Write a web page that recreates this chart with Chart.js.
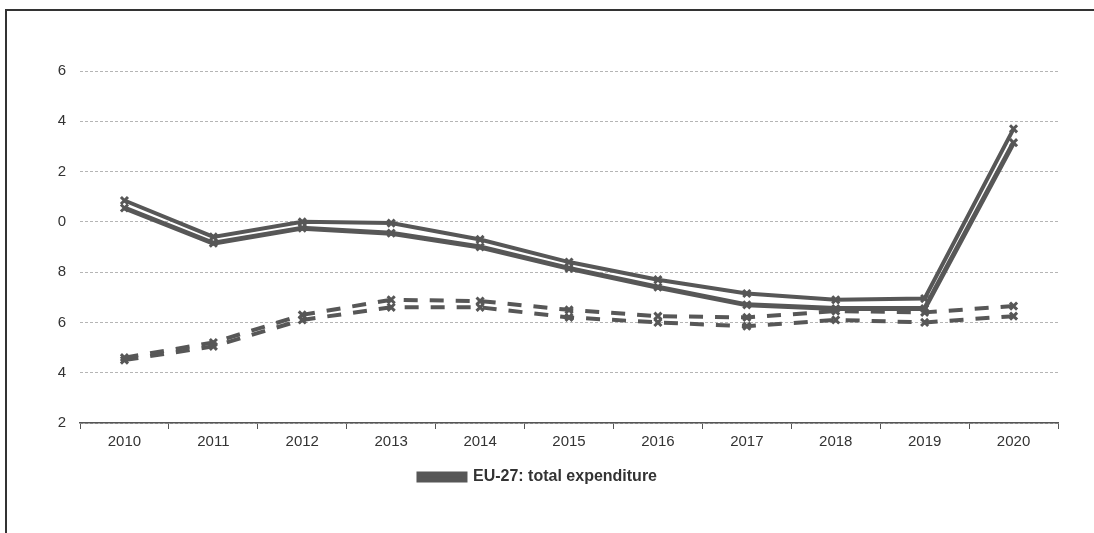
<!DOCTYPE html>
<html>
<head>
<meta charset="utf-8">
<script src="https://cdn.jsdelivr.net/npm/chart.js@4.4.1/dist/chart.umd.min.js"></script>
<style>
  html, body { margin: 0; padding: 0; background: #fff; overflow: hidden; }
  #frame {
    position: absolute; left: 5px; top: 9px;
    width: 1200px; height: 700px;
    border-top: 2px solid #333; border-left: 2px solid #333;
  }
  #wrap { position: absolute; left: 0; top: 0; width: 1094px; height: 533px; }
</style>
</head>
<body>
<div id="frame"></div>
<div id="wrap"><canvas id="chart"></canvas></div>
<script>
// Years on the x axis
const years = ['2010', '2011', '2012', '2013', '2014', '2015', '2016', '2017', '2018', '2019', '2020'];

// y axis runs 32..46, labels are cut down to their last digit in the source
const yTickValues = [32, 34, 36, 38, 40, 42, 44, 46];
const yTickLabels = ['2', '4', '6', '8', '0', '2', '4', '6'];

// solid pair
const totalUpper = [40.85, 39.4, 40.0, 39.95, 39.3, 38.4, 37.7, 37.15, 36.9, 36.95, 43.7];
const totalLower = [40.55, 39.15, 39.75, 39.55, 39.0, 38.15, 37.4, 36.7, 36.55, 36.55, 43.15];

// dashed pair
const dashedUpper = [34.6, 35.2, 36.3, 36.9, 36.85, 36.5, 36.25, 36.2, 36.45, 36.4, 36.65];
const dashedLower = [34.5, 35.05, 36.1, 36.6, 36.6, 36.2, 36.0, 35.85, 36.1, 36.0, 36.25];

const legendLabel = 'EU-27: total expenditure';

const lineGrey = '#575757';

function series(label, data, width, dash) {
    return {
        label: label,
        data: data,
        borderColor: lineGrey,
        backgroundColor: lineGrey,
        borderWidth: width,
        borderDash: dash,
        tension: 0,
        fill: false,
        pointStyle: 'crossRot',
        pointRadius: 5,
        pointBorderWidth: 3,
        pointBorderColor: lineGrey,
        pointHoverRadius: 5
    };
}

const ctx = document.getElementById('chart').getContext('2d');
new Chart(ctx, {
    type: 'line',
    data: {
        labels: years,
        datasets: [
            series(legendLabel, totalLower, 5, []),
            series('total upper', totalUpper, 4, []),
            series('dashed upper', dashedUpper, 4, [14, 12]),
            series('dashed lower', dashedLower, 4, [14, 12])
        ]
    },
    options: {
        responsive: true,
        maintainAspectRatio: false,
        animation: false,
        layout: {
            padding: { top: 71, right: 36, bottom: 38, left: 18 }
        },
        scales: {
            x: {
                offset: true,
                grid: {
                    offset: true,
                    drawOnChartArea: false,
                    drawTicks: true,
                    tickLength: 6,
                    color: '#555'
                },
                border: { display: true, color: '#555', width: 1.5 },
                ticks: {
                    color: '#333',
                    padding: 4,
                    font: { family: 'Liberation Sans, Arial, sans-serif', size: 15 }
                }
            },
            y: {
                min: 32,
                max: 46,
                afterFit: (scale) => { scale.width = 62; },
                afterBuildTicks: (scale) => {
                    scale.ticks = yTickValues.map(v => ({ value: v }));
                },
                grid: {
                    drawTicks: false,
                    color: '#b5b5b5',
                    lineWidth: 1
                },
                border: { display: false, dash: [3, 2] },
                ticks: {
                    color: '#333',
                    padding: 14,
                    font: { family: 'Liberation Sans, Arial, sans-serif', size: 15 },
                    callback: (value) => {
                        const i = yTickValues.indexOf(value);
                        return i >= 0 ? yTickLabels[i] : '';
                    }
                }
            }
        },
        plugins: {
            legend: {
                position: 'bottom',
                labels: {
                    boxWidth: 46,
                    boxHeight: 6,
                    color: '#333',
                    padding: 14,
                    font: { family: 'Liberation Sans, Arial, sans-serif', size: 16, weight: 'bold' },
                    filter: (item) => item.datasetIndex === 0
                }
            },
            tooltip: { enabled: false }
        }
    }
});
</script>
</body>
</html>
